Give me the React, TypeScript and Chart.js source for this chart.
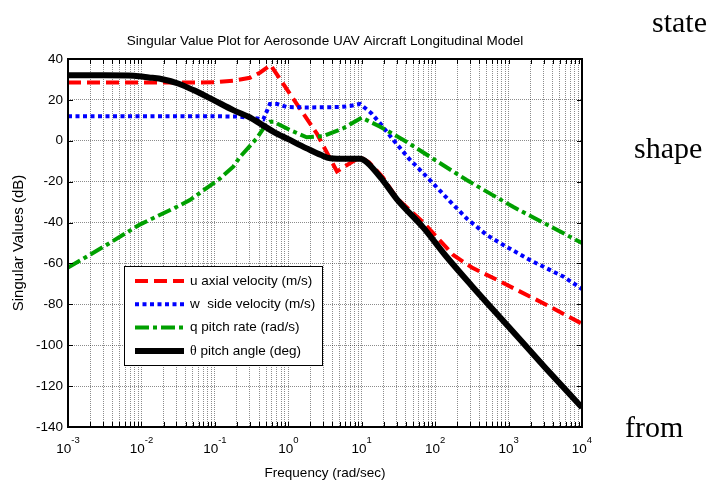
import React, { useEffect, useRef } from 'react';
import { Chart, registerables } from 'chart.js';

Chart.register(...registerables);

const SANS = '"Liberation Sans", Arial, Helvetica, sans-serif';
const SERIF = '"Liberation Serif", "Times New Roman", serif';

const TITLE = 'Singular Value Plot for Aerosonde UAV Aircraft Longitudinal Model';
const X_TITLE = 'Frequency (rad/sec)';
const Y_TITLE = 'Singular Values (dB)';

const X_MIN = 1e-3;
const X_MAX = 1e4;
const Y_MIN = -140;
const Y_MAX = 40;
const Y_STEP = 20;

// decade exponents that get a "10^n" label
const DECADE_EXPONENTS = [-3, -2, -1, 0, 1, 2, 3, 4];
// mantissas of the log grid inside each decade
const MANTISSAS = [1, 2, 3, 4, 5, 6, 7, 8, 9];

const SERIES_LABELS = [
  'u axial velocity (m/s)',
  'w  side velocity (m/s)',
  'q pitch rate (rad/s)',
  'θ pitch angle (deg)',
];

// u — axial velocity
const U_FREQ = [0.001, 0.01, 0.0316, 0.1, 0.178, 0.3, 0.41, 0.575, 1.05, 2.45, 4.6, 6.9, 9.5, 12.6, 19.5, 30, 69, 178, 316, 692, 3300, 10000];
const U_DB = [28.5, 28.5, 28.5, 28.6, 29.4, 30.8, 33.3, 37, 23, 3.5, -15, -11, -8, -10.5, -18, -28, -40, -56, -62, -68, -80.3, -89.5];

// w — side velocity
const W_FREQ = [0.001, 0.1, 0.22, 0.35, 0.457, 0.562, 0.708, 0.95, 1.78, 5.0, 6.9, 9.5, 13.6, 17.8, 27, 44.7, 85, 158, 269, 501, 851, 2000, 5620, 10000];
const W_DB = [12, 12, 11.8, 11, 10.5, 18, 18, 16.5, 16.3, 16.5, 17, 18, 13.4, 8.5, 0.4, -9, -19.2, -29.5, -38, -46, -51, -58.5, -66.5, -72.5];

// q — pitch rate
const Q_FREQ = [0.001, 0.00316, 0.0095, 0.0316, 0.0457, 0.118, 0.178, 0.219, 0.372, 0.5, 0.562, 0.631, 1.05, 1.78, 3.0, 5.6, 10, 17.8, 40.7, 117, 269, 1150, 10000];
const Q_DB = [-62, -51.5, -41, -32, -29, -18.4, -12.7, -8, 1.2, 8, 9.3, 9.3, 5.3, 1.7, 2.3, 6.1, 11.3, 6.9, -0.5, -11, -19.2, -32.3, -50];

// theta — pitch angle
const TH_FREQ = [0.001, 0.00316, 0.0079, 0.0126, 0.02, 0.0316, 0.051, 0.095, 0.178, 0.316, 0.41, 0.63, 1.0, 1.78, 2.8, 3.7, 6.3, 9.5, 11.7, 19.5, 30, 69, 141, 316, 1000, 3160, 10000];
const TH_DB = [32, 32, 31.8, 31, 30, 28, 24.8, 20, 15, 11, 8.5, 4.4, 0.8, -3.7, -7, -8.5, -8.8, -8.8, -10.5, -19.5, -28.5, -42.5, -56.5, -71, -91, -111, -130.5];

// words set beside the figure
const SIDE_WORDS = ['state', 'shape', 'from'];
const SIDE_WORD_POS = [
  { x: 652, y: 32 },
  { x: 634, y: 158 },
  { x: 625, y: 437 },
];

const FONT_SIZE = 13.5;
const Y_TITLE_SIZE = 15;
const TICK_LEN = 5;
const LEGEND_BOX = { left: 124, top: 266, right: 322, bottom: 365 };

const toPoints = (xs: number[], ys: number[]) => xs.map((x, i) => ({ x, y: ys[i] }));

const xTickValues = (): number[] => {
  const out: number[] = [];
  DECADE_EXPONENTS.forEach((e) => {
    if (e === DECADE_EXPONENTS[DECADE_EXPONENTS.length - 1]) {
      out.push(Math.pow(10, e));
      return;
    }
    MANTISSAS.forEach((m) => out.push(m * Math.pow(10, e)));
  });
  return out;
};

const decorPlugin = {
  id: 'decor',
  afterDatasetsDraw(chart: any) {
    const { ctx, chartArea: a, scales } = chart;
    const xs = scales.x;
    const ys = scales.y;
    ctx.save();

    // inward tick marks on all four sides
    ctx.strokeStyle = '#000';
    ctx.lineWidth = 1;
    ctx.setLineDash([]);
    ctx.beginPath();
    xs.ticks.forEach((t: any) => {
      const px = Math.round(xs.getPixelForValue(t.value)) + 0.5;
      ctx.moveTo(px, a.bottom);
      ctx.lineTo(px, a.bottom - TICK_LEN);
      ctx.moveTo(px, a.top);
      ctx.lineTo(px, a.top + TICK_LEN);
    });
    ys.ticks.forEach((t: any) => {
      const py = Math.round(ys.getPixelForValue(t.value)) + 0.5;
      ctx.moveTo(a.left, py);
      ctx.lineTo(a.left + TICK_LEN, py);
      ctx.moveTo(a.right, py);
      ctx.lineTo(a.right - TICK_LEN, py);
    });
    ctx.stroke();

    // axes box
    ctx.lineWidth = 2;
    ctx.strokeRect(a.left, a.top, a.right - a.left, a.bottom - a.top);

    // legend
    const b = LEGEND_BOX;
    ctx.fillStyle = '#fff';
    ctx.fillRect(b.left, b.top, b.right - b.left, b.bottom - b.top);
    ctx.lineWidth = 1;
    ctx.strokeStyle = '#000';
    ctx.strokeRect(b.left + 0.5, b.top + 0.5, b.right - b.left, b.bottom - b.top);
    chart.data.datasets.forEach((ds: any, i: number) => {
      const yRow = b.top + 15 + i * 23.3;
      ctx.save();
      ctx.strokeStyle = ds.borderColor;
      ctx.lineWidth = ds.borderWidth;
      ctx.setLineDash(ds.borderDash || []);
      ctx.beginPath();
      ctx.moveTo(b.left + 11, yRow);
      ctx.lineTo(b.left + 60, yRow);
      ctx.stroke();
      ctx.restore();

      ctx.fillStyle = '#000';
      ctx.textBaseline = 'middle';
      ctx.textAlign = 'left';
      let tx = b.left + 66;
      let label: string = ds.label;
      if (label.startsWith('θ')) {
        ctx.font = `${FONT_SIZE + 0.5}px ${SERIF}`;
        ctx.fillText('θ', tx, yRow);
        tx += ctx.measureText('θ').width;
        label = label.slice(1);
      }
      ctx.font = `${FONT_SIZE}px ${SANS}`;
      ctx.fillText(label, tx, yRow);
    });
    ctx.restore();
  },
  afterDraw(chart: any) {
    const { ctx, scales } = chart;
    const xs = scales.x;
    ctx.save();
    ctx.fillStyle = '#000';
    ctx.textBaseline = 'alphabetic';
    ctx.textAlign = 'left';

    // decade labels with superscript exponents
    DECADE_EXPONENTS.forEach((e) => {
      const px = xs.getPixelForValue(Math.pow(10, e));
      const base = '10';
      const exp = String(e);
      ctx.font = `${FONT_SIZE}px ${SANS}`;
      const wb = ctx.measureText(base).width;
      ctx.font = `9.5px ${SANS}`;
      const we = ctx.measureText(exp).width;
      const start = px - (wb + we) / 2;
      ctx.font = `${FONT_SIZE}px ${SANS}`;
      ctx.fillText(base, start, 453);
      ctx.font = `9.5px ${SANS}`;
      ctx.fillText(exp, start + wb, 443);
    });

    // side words
    ctx.font = `30px ${SERIF}`;
    SIDE_WORDS.forEach((w, i) => {
      ctx.fillText(w, SIDE_WORD_POS[i].x, SIDE_WORD_POS[i].y);
    });
    ctx.restore();
  },
};

export default function App() {
  const canvasRef = useRef<HTMLCanvasElement | null>(null);

  useEffect(() => {
    const canvas = canvasRef.current;
    if (!canvas) return;
    const gridColor = 'rgba(0,0,0,0.45)';

    const chart = new Chart(canvas, {
      type: 'line',
      data: {
        datasets: [
          {
            label: SERIES_LABELS[0],
            data: toPoints(U_FREQ, U_DB),
            borderColor: '#ff0000',
            borderWidth: 4,
            borderDash: [13, 6],
            order: 3,
          },
          {
            label: SERIES_LABELS[1],
            data: toPoints(W_FREQ, W_DB),
            borderColor: '#0000ff',
            borderWidth: 4,
            borderDash: [4, 3.5],
            order: 2,
          },
          {
            label: SERIES_LABELS[2],
            data: toPoints(Q_FREQ, Q_DB),
            borderColor: '#00a000',
            borderWidth: 4,
            borderDash: [14, 4, 4, 4],
            order: 1,
          },
          {
            label: SERIES_LABELS[3],
            data: toPoints(TH_FREQ, TH_DB),
            borderColor: '#000000',
            borderWidth: 6,
            borderJoinStyle: 'round',
            cubicInterpolationMode: 'monotone',
            order: 0,
          },
        ] as any,
      },
      options: {
        responsive: false,
        animation: false,
        events: [],
        layout: { padding: { left: 0, right: 134, top: 0, bottom: 0 } },
        elements: {
          point: { radius: 0 },
          line: { tension: 0, fill: false },
        },
        plugins: {
          legend: { display: false },
          tooltip: { enabled: false },
          title: {
            display: true,
            text: TITLE,
            color: '#000',
            fullSize: false,
            font: { family: SANS, size: FONT_SIZE, weight: 'normal' as any },
            padding: { top: 32.9, bottom: 9.9 },
          },
        },
        scales: {
          x: {
            type: 'logarithmic',
            min: X_MIN,
            max: X_MAX,
            afterBuildTicks: (scale: any) => {
              scale.ticks = xTickValues().map((v) => ({ value: v }));
            },
            afterFit: (scale: any) => {
              scale.height = 55;
            },
            ticks: { display: false },
            grid: { color: gridColor, lineWidth: 1, drawTicks: false },
            border: { display: false, dash: [1, 1] },
            title: {
              display: true,
              text: X_TITLE,
              color: '#000',
              font: { family: SANS, size: FONT_SIZE },
              padding: { top: 0, bottom: 1 },
            },
          },
          y: {
            type: 'linear',
            min: Y_MIN,
            max: Y_MAX,
            afterFit: (scale: any) => {
              scale.width = 68;
            },
            ticks: {
              stepSize: Y_STEP,
              color: '#000',
              padding: 5,
              font: { family: SANS, size: FONT_SIZE },
            },
            grid: { color: gridColor, lineWidth: 1, drawTicks: false },
            border: { display: false, dash: [1, 1] },
            title: {
              display: true,
              text: Y_TITLE,
              color: '#000',
              font: { family: SANS, size: Y_TITLE_SIZE },
              padding: { top: 10, bottom: 0 },
            },
          },
        },
      } as any,
      plugins: [decorPlugin],
    });

    return () => chart.destroy();
  }, []);

  return (
    <div style={{ position: 'fixed', left: 0, top: 0, width: 716, height: 482, background: '#fff' }}>
      <canvas ref={canvasRef} width={716} height={482} style={{ display: 'block' }} />
    </div>
  );
}
